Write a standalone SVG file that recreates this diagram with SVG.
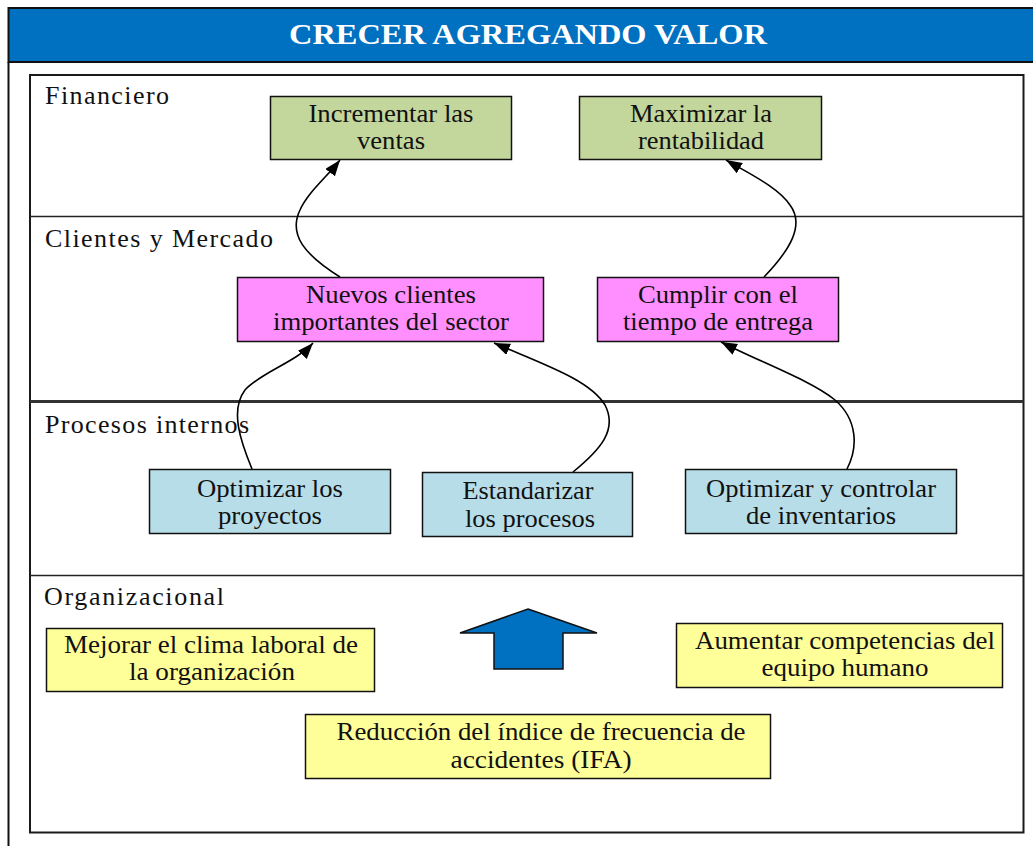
<svg xmlns="http://www.w3.org/2000/svg" width="1033" height="846" viewBox="0 0 1033 846">
  <style>
    .frame { fill: none; stroke: #1a1a1a; stroke-width: 2; }
    .lane { fill: none; stroke: #222; stroke-width: 1.5; }
    .box { stroke: #111; stroke-width: 1.5; }
    .fin { fill: #C3D69B; }
    .cli { fill: #FF8FFF; }
    .pro { fill: #B7DDE8; }
    .org { fill: #FFFF99; }
    text { font-family: "Liberation Serif", "Times New Roman", serif; font-size: 25px; fill: #111; }
    text.lbl { font-size: 26px; }
    text.title { font-size: 30px; font-weight: bold; fill: #ffffff; }
    .edge { fill: none; stroke: #000; stroke-width: 1.6; marker-end: url(#head); }
  </style>
  <defs>
    <marker id="head" markerUnits="userSpaceOnUse" markerWidth="18" markerHeight="14" refX="16" refY="6" orient="auto">
      <path d="M0,0 L16,6 L0,12 z" fill="#000"/>
    </marker>
  </defs>

  <rect width="1033" height="846" fill="#ffffff"/>

  <!-- outer frame with title band -->
  <g id="header">
    <rect x="8.5" y="8" width="1040" height="54" fill="#0070C0" stroke="#111" stroke-width="2"/>
    <line x1="8.5" y1="62" x2="8.5" y2="846" stroke="#111" stroke-width="2"/>
    <text class="title" x="528" y="44" text-anchor="middle" textLength="478" lengthAdjust="spacingAndGlyphs">CRECER AGREGANDO VALOR</text>
  </g>

  <!-- perspective lanes -->
  <g id="lanes">
    <rect class="frame" x="30" y="75" width="993.5" height="757.5"/>
    <line class="lane" x1="30" y1="216.5" x2="1023.5" y2="216.5"/>
    <line x1="30" y1="401.5" x2="1023.5" y2="401.5" stroke="#333" stroke-width="3"/>
    <line class="lane" x1="30" y1="575.5" x2="1023.5" y2="575.5"/>
    <text class="lbl" x="45" y="104" textLength="124">Financiero</text>
    <text class="lbl" x="45" y="247" textLength="228">Clientes y Mercado</text>
    <text class="lbl" x="45" y="433" textLength="204">Procesos internos</text>
    <text class="lbl" x="44" y="605" textLength="180">Organizacional</text>
  </g>

  <!-- connectors -->
  <g id="connectors">
    <path class="edge" d="M340,277 C305,255 288,235 300,210 C308,192 326,178 340,160"/>
    <path class="edge" d="M764,277 C790,250 805,225 790,205 C778,187 748,173 726,160"/>
    <path class="edge" d="M252,469 C240,440 230,410 245,390 C260,373 296,362 313,343"/>
    <path class="edge" d="M573,472 C600,450 618,430 605,405 C590,380 545,365 494,343"/>
    <path class="edge" d="M847,469 C858,448 858,420 835,400 C810,380 760,362 721,342"/>
  </g>

  <!-- Financiero -->
  <g id="incrementar-ventas">
    <rect class="box fin" x="270.5" y="96.5" width="241" height="63"/>
    <text x="391" y="122" text-anchor="middle" textLength="165" lengthAdjust="spacingAndGlyphs">Incrementar las</text>
    <text x="391" y="149" text-anchor="middle" textLength="68" lengthAdjust="spacingAndGlyphs">ventas</text>
  </g>
  <g id="maximizar-rentabilidad">
    <rect class="box fin" x="579.5" y="96.5" width="242" height="63"/>
    <text x="701" y="122" text-anchor="middle" textLength="142" lengthAdjust="spacingAndGlyphs">Maximizar la</text>
    <text x="701" y="149" text-anchor="middle" textLength="126" lengthAdjust="spacingAndGlyphs">rentabilidad</text>
  </g>

  <!-- Clientes y Mercado -->
  <g id="nuevos-clientes">
    <rect class="box cli" x="237.5" y="277.5" width="306" height="64"/>
    <text x="391" y="303" text-anchor="middle" textLength="170" lengthAdjust="spacingAndGlyphs">Nuevos clientes</text>
    <text x="391" y="330" text-anchor="middle" textLength="236" lengthAdjust="spacingAndGlyphs">importantes del sector</text>
  </g>
  <g id="cumplir-entrega">
    <rect class="box cli" x="597.5" y="277.5" width="241" height="64"/>
    <text x="718" y="303" text-anchor="middle" textLength="160" lengthAdjust="spacingAndGlyphs">Cumplir con el</text>
    <text x="718" y="330" text-anchor="middle" textLength="190" lengthAdjust="spacingAndGlyphs">tiempo de entrega</text>
  </g>

  <!-- Procesos internos -->
  <g id="optimizar-proyectos">
    <rect class="box pro" x="149.5" y="469.5" width="241" height="64"/>
    <text x="270" y="497" text-anchor="middle" textLength="146" lengthAdjust="spacingAndGlyphs">Optimizar los</text>
    <text x="270" y="524" text-anchor="middle" textLength="104" lengthAdjust="spacingAndGlyphs">proyectos</text>
  </g>
  <g id="estandarizar-procesos">
    <rect class="box pro" x="422.5" y="472.5" width="210" height="64" stroke="#555"/>
    <text x="528" y="499" text-anchor="middle" textLength="131" lengthAdjust="spacingAndGlyphs">Estandarizar</text>
    <text x="530" y="527" text-anchor="middle" textLength="130" lengthAdjust="spacingAndGlyphs">los procesos</text>
  </g>
  <g id="optimizar-inventarios">
    <rect class="box pro" x="685.5" y="469.5" width="271" height="64"/>
    <text x="821" y="497" text-anchor="middle" textLength="230" lengthAdjust="spacingAndGlyphs">Optimizar y controlar</text>
    <text x="821" y="524" text-anchor="middle" textLength="150" lengthAdjust="spacingAndGlyphs">de inventarios</text>
  </g>

  <!-- Organizacional -->
  <g id="flecha-crecimiento">
    <polygon points="528,609 597,633 563,633 563,669 494,669 494,633 460,633" fill="#0070C0" stroke="#111" stroke-width="1.5"/>
  </g>
  <g id="clima-laboral">
    <rect class="box org" x="46.5" y="628.5" width="328" height="63" stroke="#555"/>
    <text x="211" y="653" text-anchor="middle" textLength="294" lengthAdjust="spacingAndGlyphs">Mejorar el clima laboral de</text>
    <text x="212" y="680" text-anchor="middle" textLength="166" lengthAdjust="spacingAndGlyphs">la organización</text>
  </g>
  <g id="competencias">
    <rect class="box org" x="676.5" y="623.5" width="326" height="64"/>
    <text x="845" y="649" text-anchor="middle" textLength="300" lengthAdjust="spacingAndGlyphs">Aumentar competencias del</text>
    <text x="845" y="676" text-anchor="middle" textLength="167" lengthAdjust="spacingAndGlyphs">equipo humano</text>
  </g>
  <g id="reduccion-ifa">
    <rect class="box org" x="305.5" y="714.5" width="465" height="64"/>
    <text x="541" y="740" text-anchor="middle" textLength="409" lengthAdjust="spacingAndGlyphs">Reducción del índice de frecuencia de</text>
    <text x="541" y="768" text-anchor="middle" textLength="181" lengthAdjust="spacingAndGlyphs">accidentes (IFA)</text>
  </g>
</svg>
